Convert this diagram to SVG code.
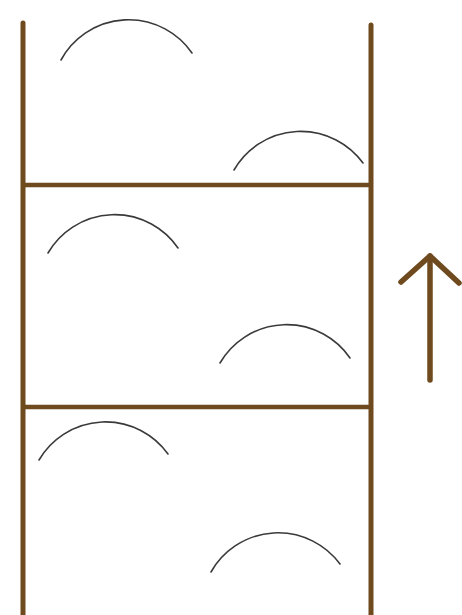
<svg xmlns="http://www.w3.org/2000/svg" width="462" height="615" viewBox="0 0 462 615">
<style>
.post{stroke:#6e4a1e;stroke-width:5;stroke-linecap:round;fill:none}
.rung{stroke:#6e4a1e;stroke-width:4.5;fill:none}
.arc{stroke:#3a3a3a;stroke-width:1.6;fill:none;stroke-linecap:round}
.arrow{stroke:#6e4a1e;stroke-width:5.5;fill:none;stroke-linecap:round;stroke-linejoin:round}
</style>
<rect width="462" height="615" fill="#ffffff"/>
<g id="frame">
<line class="post" x1="23" y1="23" x2="23" y2="620"/>
<line class="post" x1="371" y1="25" x2="371" y2="620"/>
<line class="rung" x1="23" y1="185" x2="371" y2="185"/>
<line class="rung" x1="23" y1="407" x2="371" y2="407"/>
</g>
<g id="arcs">
<path class="arc" d="M61,60 A77,77 0 0 1 192,53"/>
<path class="arc" d="M234,170 A77,77 0 0 1 363,163"/>
<path class="arc" d="M48,253 A77,77 0 0 1 178,248"/>
<path class="arc" d="M220,363 A77,77 0 0 1 350,358"/>
<path class="arc" d="M39,460 A77,77 0 0 1 168,454"/>
<path class="arc" d="M211,572 A77,77 0 0 1 340,564"/>
</g>
<g id="arrow">
<path class="arrow" d="M430,380 L430,256"/>
<path class="arrow" d="M401,282 L430,256 L459,283"/>
</g>
</svg>
